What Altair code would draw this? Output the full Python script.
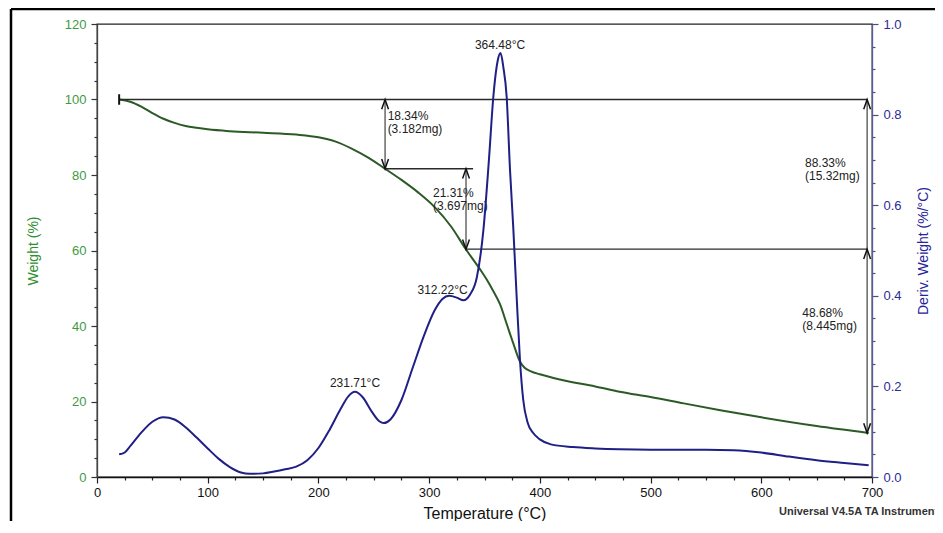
import altair as alt
import pandas as pd

# ---- TGA weight curve (left axis, %)
temp_w = [20, 30, 40, 50, 60, 70, 80, 90, 100, 120, 150, 180, 200, 215, 230, 245, 260, 275, 290, 305,
          320, 333, 346, 352, 358, 364, 370, 376, 382, 386, 392, 400, 420, 450, 472, 500, 530, 563, 600, 650, 697]
weight = [100, 99.4, 98.1, 96.4, 94.9, 93.8, 93.0, 92.5, 92.1, 91.6, 91.2, 90.7, 90.0, 88.9, 87.0, 84.6,
          81.7, 78.7, 75.4, 71.5, 66.3, 60.4, 55.0, 52.3, 49.2, 45.8, 40.6, 35.4, 30.6, 29.0, 28.0, 27.2,
          25.7, 24.0, 22.6, 21.2, 19.5, 17.7, 15.8, 13.5, 11.67]

# ---- DTG curve (right axis, %/°C)
temp_d = [20, 25, 30, 40, 50, 60, 70, 80, 90, 100, 110, 120, 130, 138, 150, 160, 170, 180, 190, 200,
          210, 220, 227, 233, 240, 248, 255, 259, 265, 275, 285, 295, 305, 312, 318, 325, 331, 337, 343, 349,
          354, 358, 362, 364.5, 367, 370, 373, 376, 379, 382, 385, 389, 394, 400, 410, 430, 450, 472, 500, 550,
          575, 600, 625, 650, 675, 697]
deriv = [0.050, 0.054, 0.068, 0.098, 0.122, 0.132, 0.127, 0.110, 0.087, 0.063, 0.040, 0.022, 0.010, 0.007,
         0.008, 0.012, 0.017, 0.023, 0.037, 0.064, 0.104, 0.150, 0.178, 0.188, 0.176, 0.145, 0.123, 0.119,
         0.127, 0.170, 0.240, 0.310, 0.368, 0.393, 0.400, 0.396, 0.390, 0.403, 0.440, 0.545, 0.700, 0.840,
         0.920, 0.936, 0.905, 0.840, 0.680, 0.550, 0.400, 0.260, 0.170, 0.120, 0.097, 0.083, 0.072, 0.066,
         0.063, 0.061, 0.060, 0.060, 0.059, 0.054, 0.045, 0.037, 0.031, 0.026]

# ---- step analysis annotations
start_T = 20
arrow_T = [260.2, 333.3, 695.6]
levels = [100, 81.66, 60.35, 11.67]
step2_end_T = 339.7

ann_text = ["18.34%", "(3.182mg)", "21.31%", "(3.697mg)", "88.33%", "(15.32mg)", "48.68%", "(8.445mg)"]
ann_T = [262.5, 262.5, 303.5, 303.5, 639.5, 639.5, 637.0, 637.0]
ann_W = [95.6, 92.2, 75.3, 71.7, 83.3, 79.7, 43.5, 39.9]

peak_text = ["364.48°C", "312.22°C", "231.71°C"]
peak_T = [364.0, 312.1, 233.0]
peak_D = [0.954, 0.413, 0.207]

FONT = "Liberation Sans"
GREEN = "#2c5a27"
NAVY = "#1f1f86"

df_w = pd.DataFrame({"T": temp_w, "W": weight})
df_d = pd.DataFrame({"T": temp_d, "D": deriv})

segs = pd.DataFrame({
    "T": [start_T, arrow_T[0], arrow_T[1], arrow_T[0], arrow_T[1], arrow_T[2]],
    "T2": [arrow_T[2], step2_end_T, arrow_T[2], arrow_T[0], arrow_T[1], arrow_T[2]],
    "W": [levels[0], levels[1], levels[2], levels[0], levels[1], levels[0]],
    "W2": [levels[0], levels[1], levels[2], levels[1], levels[2], levels[3]],
    "kind": ["h", "h", "h", "v", "v", "v"],
})
ups = pd.DataFrame({"T": [arrow_T[0], arrow_T[1], arrow_T[2], arrow_T[2]],
                    "W": [levels[0], levels[1], levels[0], levels[2]]})
downs = pd.DataFrame({"T": [arrow_T[0], arrow_T[1], arrow_T[2]],
                      "W": [levels[1], levels[2], levels[3]]})
startbar = pd.DataFrame({"T": [start_T], "W": [levels[0]]})
df_ann = pd.DataFrame({"T": ann_T, "W": ann_W, "t": ann_text})
df_peak = pd.DataFrame({"T": peak_T, "D": peak_D, "t": peak_text})

xscale = alt.Scale(domain=[0, 700], nice=False, zero=False)
wscale = alt.Scale(domain=[0, 120], nice=False)
dscale = alt.Scale(domain=[0, 1.0], nice=False)

x_axis = alt.Axis(
    values=list(range(0, 701, 25)),
    labelExpr="datum.value % 100 === 0 ? datum.label : ''",
    tickSize={"condition": {"test": "datum.value % 100 === 0", "value": 6}, "value": 3},
    labelFontSize=13, labelColor="#111", labelFont=FONT, labelPadding=3,
    labelOverlap=False, labelFlush=False,
    domainColor="#111", domainWidth=1.3, tickColor="#222", tickWidth=1.2,
    grid=False,
    title="Temperature (°C)", titleFont=FONT, titleFontSize=16, titleFontWeight="normal",
    titleColor="#111", titleX=387.5, titleY=36, titleBaseline="middle", titleAlign="center",
)
w_axis = alt.Axis(
    orient="left",
    values=list(range(0, 121, 5)),
    labelExpr="datum.value % 20 === 0 ? datum.label : ''",
    tickSize={"condition": {"test": "datum.value % 20 === 0", "value": 6}, "value": 3},
    labelFontSize=13, labelColor="#3f9a3f", labelFont=FONT, labelPadding=5,
    labelOverlap=False, labelFlush=False,
    domainColor="#444", domainWidth=1.3, tickColor="#333", tickWidth=1.2,
    grid=False,
    title="Weight (%)", titleFont=FONT, titleFontSize=14, titleFontWeight="normal",
    titleColor="#2f8f2f", titleX=-64, titleY=226.5, titleAngle=270,
    titleAlign="center", titleBaseline="middle",
)
d_axis = alt.Axis(
    orient="right",
    values=[round(i * 0.05, 2) for i in range(21)],
    labelExpr="round(datum.value*20) % 4 === 0 ? format(datum.value, '.1f') : ''",
    tickSize={"condition": {"test": "round(datum.value*20) % 4 === 0", "value": 6}, "value": 3},
    labelFontSize=13, labelColor="#2b2b95", labelFont=FONT, labelPadding=5,
    labelOverlap=False, labelFlush=False,
    domainColor="#5a5a98", domainWidth=1.3, tickColor="#4a4a90", tickWidth=1.2,
    grid=False,
    title="Deriv. Weight (%/°C)", titleFont=FONT, titleFontSize=14, titleFontWeight="normal",
    titleColor="#25259a", titleX=51, titleY=226.5, titleAngle=270,
    titleAlign="center", titleBaseline="middle",
)

def X(field="T"):
    return alt.X(f"{field}:Q", scale=xscale, axis=x_axis)

def YW(field="W"):
    return alt.Y(f"{field}:Q", scale=wscale, axis=w_axis)

def YD(field="D"):
    return alt.Y(f"{field}:Q", scale=dscale, axis=d_axis)

w_line = alt.Chart(df_w).mark_line(color=GREEN, strokeWidth=2, interpolate="monotone").encode(
    x=X(), y=YW(),
)
seg_layer = alt.Chart(segs).mark_rule(strokeWidth=1.3).encode(
    x=X(), x2="T2:Q", y=YW(), y2="W2:Q",
    color=alt.Color("kind:N", scale=alt.Scale(domain=["h", "v"], range=["#2a2a2a", "#505050"]), legend=None),
)
up_marks = alt.Chart(ups).mark_point(
    shape="M-0.35,1L0,0L0.35,1", size=380, filled=False, color="#111", strokeWidth=1.5, opacity=1
).encode(x=X(), y=YW())
down_marks = alt.Chart(downs).mark_point(
    shape="M-0.35,-1L0,0L0.35,-1", size=380, filled=False, color="#111", strokeWidth=1.5, opacity=1
).encode(x=X(), y=YW())
start_mark = alt.Chart(startbar).mark_point(
    shape="M0,-1L0,1", size=110, filled=False, color="#111", strokeWidth=2, opacity=1
).encode(x=X(), y=YW())
ann_layer = alt.Chart(df_ann).mark_text(
    align="left", baseline="middle", font=FONT, fontSize=12, color="#222"
).encode(x=X(), y=YW(), text="t:N")

weight_group = alt.layer(w_line, seg_layer, up_marks, down_marks, start_mark, ann_layer)

d_line = alt.Chart(df_d).mark_line(color=NAVY, strokeWidth=2, interpolate="monotone").encode(
    x=X(), y=YD(),
)
peak_layer = alt.Chart(df_peak).mark_text(
    align="center", baseline="middle", font=FONT, fontSize=12, color="#222"
).encode(x=X(), y=YD(), text="t:N")
dtg_group = alt.layer(d_line, peak_layer)

frame_src = alt.Data(values=[{}])
frame_left = alt.Chart(frame_src).mark_rule(color="#000", strokeWidth=2.5).encode(
    x=alt.value(-86), y=alt.value(-15), y2=alt.value(520)
)
frame_top = alt.Chart(frame_src).mark_rule(color="#000", strokeWidth=2.5).encode(
    x=alt.value(-86), x2=alt.value(850), y=alt.value(-15)
)
credit = alt.Chart(frame_src).mark_text(
    align="left", baseline="middle", font=FONT, fontSize=11, fontWeight="bold", color="#333"
).encode(
    x=alt.value(682), y=alt.value(488), text=alt.value("Universal V4.5A TA Instruments")
)

chart = alt.layer(weight_group, dtg_group, frame_left, frame_top, credit).resolve_scale(
    y="independent"
).properties(
    width=775, height=453,
    padding={"left": 89, "top": 16, "right": 63, "bottom": 44},
    autosize=alt.AutoSizeParams(type="none"),
    background="white",
).configure_view(stroke="#222", strokeWidth=1.3)

chart.save("out.html", embed_options={"renderer": "svg", "actions": False})
